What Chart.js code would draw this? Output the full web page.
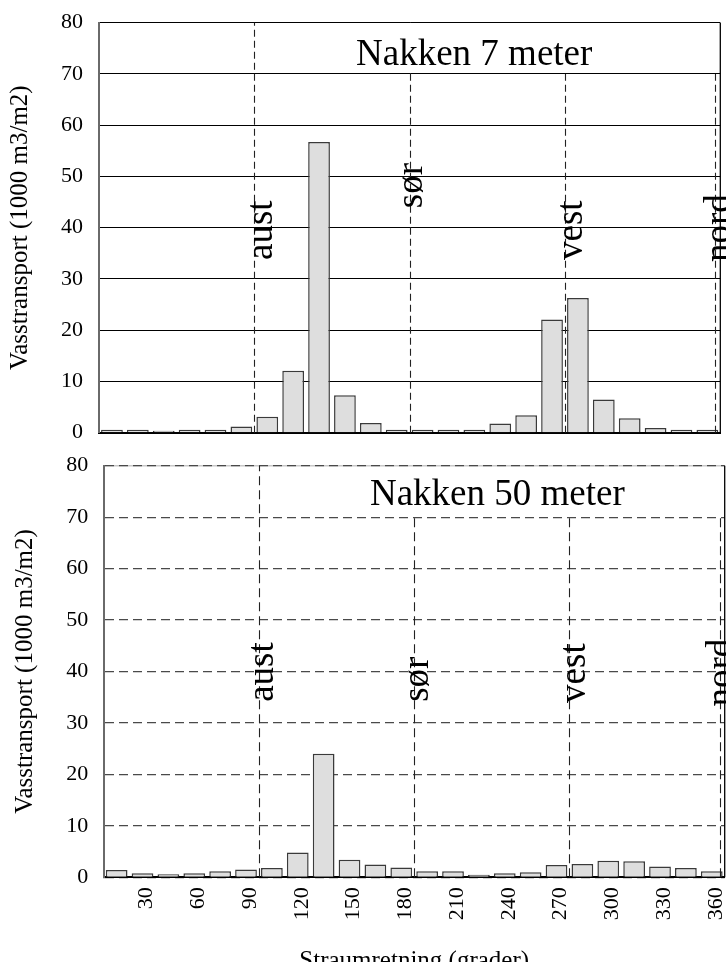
<!DOCTYPE html>
<html><head><meta charset="utf-8">
<script src="https://cdn.jsdelivr.net/npm/chart.js@4.4.1/dist/chart.umd.min.js"></script>
<style>
html,body{margin:0;padding:0;background:#fff;overflow:hidden;width:726px;height:962px;}
#c1{position:absolute;left:0;top:0;}
#c2{position:absolute;left:0;top:445px;}
</style></head><body>
<canvas id="c1" width="726" height="445"></canvas>
<canvas id="c2" width="726" height="540"></canvas>
<script>
// ---- data ----
const categories = ['15','30','45','60','75','90','105','120','135','150','165','180',
                    '195','210','225','240','255','270','285','300','315','330','345','360'];
const tickLabels = ['30','60','90','120','150','180','210','240','270','300','330','360'];
const nakken7  = [0.6,0.6,0.4,0.6,0.6,1.2,3.1,12.1,56.7,7.3,1.9,0.6,0.6,0.6,0.6,1.8,3.4,22.1,26.3,6.5,2.8,0.9,0.6,0.6];
const nakken50 = [1.4,0.8,0.6,0.8,1.2,1.5,1.8,4.8,24.0,3.4,2.5,1.9,1.2,1.2,0.5,0.8,1.0,2.4,2.6,3.2,3.1,2.1,1.8,1.2];
const yTicks = [0,10,20,30,40,50,60,70,80];
const directionNames = ['aust','sør','vest','nord'];
const directionDeg = [90,180,270,357.2];
const directionTop = [80,70,70,70];
const labelDeg7  = [100.1,187.0,279.8,365.8];
const labelVal7  = [33.7,43.8,33.7,33.3];
const labelDeg50 = [98.1,188.2,279.0,364.2];
const labelVal50 = [34.1,34.1,33.9,33.2];
const title7 = 'Nakken 7 meter';
const title50 = 'Nakken 50 meter';
const titlePos7 = [217.4,71.7];
const titlePos50 = [228.2,72.4];
const yTitle = 'Vasstransport (1000 m3/m2)';
const xTitle = 'Straumretning (grader)';

Chart.defaults.font.family = '"Liberation Serif","Times New Roman",serif';
Chart.defaults.color = '#000';

const SERIF = '"Liberation Serif","Times New Roman",serif';

function degToPx(xs, deg){ return xs.getPixelForValue(deg/15 - 0.5); }

function overlayPlugin(o){
  return {
    id:'overlay',
    beforeDraw(chart){
      if (o.topLine){
        const a = chart.chartArea, ctx = chart.ctx;
        ctx.save(); ctx.strokeStyle = '#c8c8c8'; ctx.lineWidth = 1.5;
        ctx.beginPath(); ctx.moveTo(a.left, a.top); ctx.lineTo(a.right, a.top); ctx.stroke();
        ctx.restore();
      }
    },
    afterDatasetsDraw(chart){
      const ctx = chart.ctx, xs = chart.scales.x, ys = chart.scales.y, a = chart.chartArea;
      ctx.save();
      // direction lines
      ctx.strokeStyle = '#222'; ctx.lineWidth = 1.1; ctx.setLineDash(o.dash);
      directionDeg.forEach((d,i)=>{
        const px = Math.round(degToPx(xs,d)) + 0.5;
        ctx.beginPath(); ctx.moveTo(px, ys.getPixelForValue(0)); ctx.lineTo(px, ys.getPixelForValue(directionTop[i])); ctx.stroke();
      });
      ctx.setLineDash([]);
      // right frame
      ctx.strokeStyle = '#000'; ctx.lineWidth = 1.3;
      ctx.beginPath(); ctx.moveTo(a.right, a.top); ctx.lineTo(a.right, a.bottom); ctx.stroke();
      // direction labels
      ctx.fillStyle = '#000'; ctx.font = '37px ' + SERIF;
      ctx.textAlign = 'left'; ctx.textBaseline = 'alphabetic';
      directionNames.forEach((n,i)=>{
        const px = degToPx(xs, o.labelDeg[i]), py = ys.getPixelForValue(o.labelVal[i]);
        ctx.save(); ctx.translate(px, py); ctx.rotate(-Math.PI/2); ctx.fillText(n, 0, 0); ctx.restore();
      });
      // panel title
      ctx.textAlign = 'center';
      ctx.fillText(o.title, degToPx(xs, o.titlePos[0]), ys.getPixelForValue(o.titlePos[1]));
      ctx.restore();
    }
  };
}

function makeChart(id, data, o){
  return new Chart(document.getElementById(id), {
    type:'bar',
    data:{ labels: categories, datasets:[{ data: data, backgroundColor:'#dedede', borderColor:'#3a3a3a', borderWidth:1.5,
      barPercentage:0.84, categoryPercentage:1.0 }]},
    options:{
      responsive:false, animation:false, devicePixelRatio:1,
      layout:{ padding:o.padding },
      plugins:{ legend:{display:false}, tooltip:{enabled:false} },
      scales:{
        x:{
          grid:{display:false, drawTicks:false},
          border:{display:true, color:'#000', width:2},
          ticks:{ display:o.showX, autoSkip:false, minRotation:90, maxRotation:90, padding:10, labelOffset:4,
            font:{size:22},
            callback:function(v,i){ const c = categories[i]; return tickLabels.includes(c) ? c : ''; } },
          title:{ display:o.showX, text:xTitle, font:{size:25, lineHeight:1.2}, padding:{top:0,bottom:9} },
          afterFit:function(s){ s.height = o.xHeight; s.paddingLeft = 0; s.paddingRight = 0; }
        },
        y:{
          min:0, max:80,
          afterBuildTicks:function(s){ s.ticks = yTicks.map(v=>({value:v})); },
          grid:{ color:o.gridColor, lineWidth:o.gridWidth, drawTicks:false },
          border:{ display:true, color:'#6a6a6a', width:2, dash:o.gridDash },
          ticks:{ padding:o.yPad, font:{size:22} },
          title:{ display:true, text:yTitle, font:{size:25, lineHeight:1.2}, padding:{top:o.yTitlePad, bottom:0} },
          afterFit:function(s){ s.width = o.yWidth; s.paddingTop = 0; s.paddingBottom = 0; }
        }
      }
    },
    plugins:[overlayPlugin(o)]
  });
}

makeChart('c1', nakken7, {
  padding:{top:22.7, right:5.7, left:0, bottom:0}, showX:false, xHeight:12.3, yWidth:99, yPad:16, yTitlePad:5,
  gridColor:'#000', gridWidth:1, gridDash:[], dash:[7,4], topLine:false,
  labelDeg:labelDeg7, labelVal:labelVal7, title:title7, titlePos:titlePos7
});
makeChart('c2', nakken50, {
  padding:{top:20.7, right:1.3, left:0, bottom:0}, showX:true, xHeight:107.7, yWidth:103.7, yPad:15.5, yTitlePad:10,
  gridColor:'#4a4a4a', gridWidth:1.2, gridDash:[9,5], dash:[9,5], topLine:true,
  labelDeg:labelDeg50, labelVal:labelVal50, title:title50, titlePos:titlePos50
});
</script>
</body></html>
